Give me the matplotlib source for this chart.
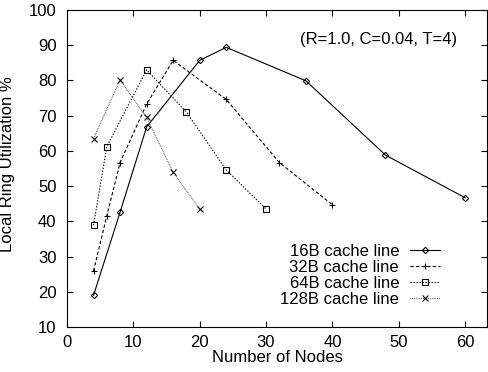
import matplotlib
matplotlib.use('Agg')
import matplotlib.pyplot as plt

plt.rcParams['font.family'] = ['Liberation Sans', 'DejaVu Sans']
plt.rcParams['font.size'] = 12

# values
x16 = [4, 8, 12, 20, 24, 36, 48, 60]
y16 = [19.0, 42.6, 66.8, 85.7, 89.4, 79.9, 58.8, 46.7]
x32 = [4, 6, 8, 12, 16, 24, 32, 40]
y32 = [25.9, 41.6, 56.7, 73.3, 85.7, 74.6, 56.7, 44.7]
x64 = [4, 6, 12, 18, 24, 30]
y64 = [38.9, 61.2, 83.0, 71.0, 54.6, 43.5]
x128 = [4, 8, 12, 16, 20]
y128 = [63.5, 80.1, 69.5, 53.9, 43.5]

fig = plt.figure(figsize=(4.88, 3.72), dpi=100)
ax = fig.add_axes([67/488, 45/372, 420/488, 317/372])

lw = 0.8
ms = 4
ax.plot(x16, y16, color='black', lw=lw, ls='-', marker='D', ms=3.2, mfc='none', mew=0.8,
        label='16B cache line')
ax.plot(x32, y32, color='black', lw=lw, ls=(0, (3, 2)), marker='+', ms=ms + 1, mew=0.8,
        label='32B cache line')
ax.plot(x64, y64, color='black', lw=lw, ls=(0, (1.2, 1.5)), marker='s', ms=ms, mfc='none', mew=0.8,
        label='64B cache line')
ax.plot(x128, y128, color='#555555', lw=lw, ls=(0, (0.8, 0.8)), marker='x', ms=ms, mew=0.8,
        mec='black', label='128B cache line')

ax.set_xlim(0, 63.3)
ax.set_ylim(10, 100)
ax.set_xticks(range(0, 61, 10))
ax.set_yticks(range(10, 101, 10))
ax.tick_params(direction='in', length=4, width=0.8, top=True, right=True)
ax.tick_params(axis='x', pad=6)
ax.tick_params(axis='y', pad=7.5)
for s in ax.spines.values():
    s.set_linewidth(0.8)

ax.set_xlabel('Number of Nodes', labelpad=0)
ax.set_ylabel('Local Ring Utilization %')
ax.yaxis.set_label_coords(-0.124, 0.514)

ax.text(46.9, 91.5, '(R=1.0, C=0.04, T=4)', ha='center', va='center')

ax.legend(loc='upper right', bbox_to_anchor=(440/488, 1 - 244/372),
          bbox_transform=fig.transFigure, frameon=False, markerfirst=False,
          borderpad=0, borderaxespad=0, handlelength=1.8, handletextpad=0.66,
          labelspacing=0.06)

fig.savefig('out.png', dpi=100)
